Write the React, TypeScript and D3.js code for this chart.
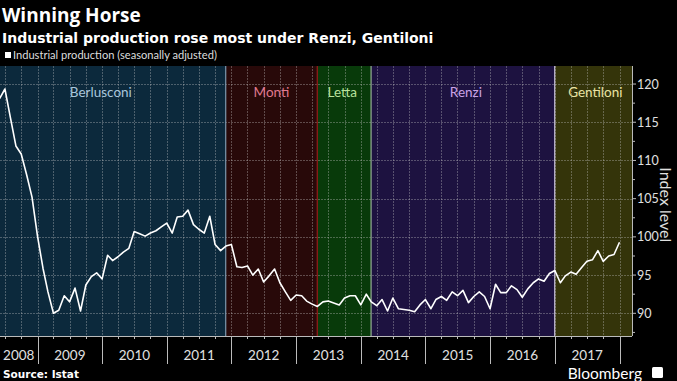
import React from "react";
import * as d3 from "d3";

// ---------- data ----------
const startMonth = new Date(2008, 5, 1); // Jun 2008
const endMonth = new Date(2018, 1, 1); // exclusive -> last = Jan 2018
const months: Date[] = d3.timeMonths(startMonth, endMonth);

const production: number[] = [
  118.1, 119.35, 115.6, 111.9, 110.85, 108.1, 105.2,
  100.1, 95.9, 92.8, 90.0, 90.4, 92.3, 91.5, 93.3, 90.3, 93.7, 94.8, 95.3,
  94.5, 97.6, 96.9, 97.4, 98.0, 98.5, 100.7, 100.4, 100.1, 100.5, 100.8, 101.3,
  101.8, 100.5, 102.6, 102.7, 103.5, 101.6, 101.0, 100.5, 102.7, 99.0, 98.2, 98.8,
  99.0, 96.1, 96.0, 96.2, 95.0, 95.8, 94.1, 94.9, 95.8, 94.0, 92.8, 91.7,
  92.4, 92.3, 91.6, 91.2, 90.9, 91.5, 91.6, 91.35, 91.1, 92.0, 92.3, 92.3,
  91.1, 92.5, 91.5, 91.0, 91.8, 90.3, 92.0, 90.6, 90.5, 90.4, 90.2, 91.1,
  91.8, 90.6, 91.8, 92.2, 91.7, 92.8, 92.3, 93.0, 91.4, 92.2, 92.8, 92.2,
  90.6, 93.8, 92.7, 92.7, 93.6, 93.1, 92.1, 93.2, 94.0, 94.5, 94.2, 95.2,
  95.6, 94.0, 94.9, 95.4, 95.1, 96.0, 96.8, 97.0, 98.2, 96.8, 97.5, 97.7,
  99.3,
];

const periodNames = ["Berlusconi", "Monti", "Letta", "Renzi", "Gentiloni"];
const periodStarts = ["2008-05-08", "2011-11-30", "2013-04-30", "2014-02-28", "2016-12-31"];
const periodFills = ["#0c293c", "#280909", "#083a0a", "#1d1240", "#34340a"];
const periodLabelColors = ["#a9c6dc", "#e07a90", "#b9e29c", "#c9a2e6", "#e9e3a3"];
const periodEdgeColors = ["#7e9ab0", "#9a1a1a", "#98b098", "#c4bcd8", "#b0b0a0"];

const yTicks = [90, 95, 100, 105, 110, 115, 120];
const yMinorTicks = [87.5, 92.5, 97.5, 102.5, 107.5, 112.5, 117.5];
const years = [2008, 2009, 2010, 2011, 2012, 2013, 2014, 2015, 2016, 2017];

const title = "Winning Horse";
const subtitle = "Industrial production rose most under Renzi, Gentiloni";
const legendLabel = "Industrial production (seasonally adjusted)";
const yAxisTitle = "Index level";
const source = "Source: Istat";

// ---------- layout ----------
const W = 677;
const H = 381;
const plotLeft = 0;
const plotRight = 632;
const plotTop = 66;
const plotBottom = 336;

export default function App() {
  const x = d3
    .scaleTime()
    .domain([new Date(2009, 0, 1), new Date(2018, 0, 1)])
    .range([37.5, 619.5]);
  const domainStart = x.invert(plotLeft);
  const domainEnd = x.invert(plotRight);

  const y = d3.scaleLinear().domain([87.03, 122.36]).range([plotBottom, plotTop]);

  const clampX = (v: number) => Math.max(plotLeft, Math.min(plotRight, v));

  const bands = periodNames.map((name, i) => {
    const s = clampX(x(new Date(periodStarts[i])));
    const e = i < periodNames.length - 1 ? clampX(x(new Date(periodStarts[i + 1]))) : plotRight;
    return { name, s, e, i };
  });

  const quarterLines = d3.timeMonth.every(3)!.range(domainStart, domainEnd);
  const yearStarts = d3.timeYear.range(domainStart, domainEnd);

  const line = d3
    .line<number>()
    .x((_, i) => x(months[i]))
    .y((d) => y(d));

  const labelFont = "Lato, 'Open Sans', sans-serif";
  const labelDx = [-12, 0, -2, 3, 2];

  return (
    <svg
      width={W}
      height={H}
      style={{ position: "absolute", left: 0, top: 0, background: "#000" }}
    >
      <defs>
        <clipPath id="plotclip">
          <rect x={plotLeft} y={plotTop} width={plotRight - plotLeft} height={plotBottom - plotTop} />
        </clipPath>
      </defs>
      <rect x={0} y={0} width={W} height={H} fill="#000" />

      {/* bands */}
      {bands.map((b) => (
        <rect key={b.name} x={b.s} y={plotTop} width={b.e - b.s} height={plotBottom - plotTop} fill={periodFills[b.i]} />
      ))}

      {/* grid */}
      <g stroke="#c8c8c8" strokeOpacity={0.35} strokeWidth={1} strokeDasharray="2,1">
        {yTicks.map((t) => (
          <line key={t} x1={plotLeft} x2={plotRight} y1={Math.round(y(t)) + 0.5} y2={Math.round(y(t)) + 0.5} />
        ))}
        {quarterLines.map((d) => (
          <line key={+d} x1={Math.round(x(d)) + 0.5} x2={Math.round(x(d)) + 0.5} y1={plotTop} y2={plotBottom} />
        ))}
      </g>

      {/* band edges */}
      {bands.slice(0, -1).map((b) => (
        <line key={b.name} x1={b.e} x2={b.e} y1={plotTop} y2={plotBottom} stroke={periodEdgeColors[b.i]} strokeWidth={1.2} />
      ))}

      {/* band labels */}
      {bands.map((b) => (
        <text
          key={b.name}
          x={(b.s + b.e) / 2 + labelDx[b.i]}
          y={97}
          fill={periodLabelColors[b.i]}
          fontFamily={labelFont}
          fontSize={13.5}
          textAnchor="middle"
        >
          {b.name}
        </text>
      ))}

      {/* series */}
      <path
        d={line(production) || ""}
        fill="none"
        stroke="#ffffff"
        strokeWidth={1.6}
        strokeLinejoin="round"
        clipPath="url(#plotclip)"
      />

      {/* right axis */}
      <line x1={plotRight + 0.5} x2={plotRight + 0.5} y1={plotTop} y2={plotBottom} stroke="#bbbbbb" />
      {yTicks.map((t) => (
        <g key={t}>
          <line x1={plotRight} x2={plotRight + 4} y1={y(t)} y2={y(t)} stroke="#bbbbbb" />
          <text x={plotRight + 5} y={y(t) + 4.5} fill="#e0e0e0" fontFamily={labelFont} fontSize={12.5}>
            {t}
          </text>
        </g>
      ))}
      {yMinorTicks.map((t) => (
        <line key={t} x1={plotRight} x2={plotRight + 3} y1={y(t)} y2={y(t)} stroke="#bbbbbb" />
      ))}
      <text
        transform={`translate(${660},${y(104.2)}) rotate(90)`}
        fill="#e0e0e0"
        fontFamily={labelFont}
        fontSize={16}
        textAnchor="middle"
      >
        {yAxisTitle}
      </text>

      {/* bottom axis */}
      <line x1={plotLeft} x2={plotRight} y1={plotBottom + 0.5} y2={plotBottom + 0.5} stroke="#bbbbbb" />
      {quarterLines.map((d) => (
        <line key={+d} x1={Math.round(x(d)) + 0.5} x2={Math.round(x(d)) + 0.5} y1={plotBottom} y2={plotBottom + 3} stroke="#bbbbbb" />
      ))}
      {yearStarts.map((d) => (
        <line key={+d} x1={Math.round(x(d)) + 0.5} x2={Math.round(x(d)) + 0.5} y1={plotBottom} y2={plotBottom + 28} stroke="#bbbbbb" />
      ))}
      {years.map((yr) => {
        const s = clampX(x(new Date(yr, 0, 1)));
        const e = clampX(x(new Date(yr + 1, 0, 1)));
        return (
          <text key={yr} x={(s + e) / 2} y={360} fill="#e0e0e0" fontFamily={labelFont} fontSize={13.5} textAnchor="middle">
            {yr}
          </text>
        );
      })}

      {/* titles */}
      <text x={2} y={22} fill="#ffffff" fontFamily="'Open Sans', sans-serif" fontWeight="bold" fontSize={19}>
        {title}
      </text>
      <text x={2} y={43} fill="#ffffff" fontFamily="'DejaVu Sans', sans-serif" fontWeight="bold" fontSize={14}>
        {subtitle}
      </text>
      <rect x={5} y={52} width={6} height={6} fill="#ffffff" />
      <text x={13} y={59} fill="#dddddd" fontFamily={labelFont} fontSize={11.1}>
        {legendLabel}
      </text>

      {/* footer */}
      <text x={3} y={378} fill="#ffffff" fontFamily="'DejaVu Sans', sans-serif" fontWeight="bold" fontSize={10.5}>
        {source}
      </text>
      <text x={642} y={379} fill="#ffffff" fontFamily={labelFont} fontSize={15.5} textAnchor="end">
        Bloomberg
      </text>
      <rect x={652} y={367} width={11} height={11} rx={1.5} fill="#ffffff" />
    </svg>
  );
}
